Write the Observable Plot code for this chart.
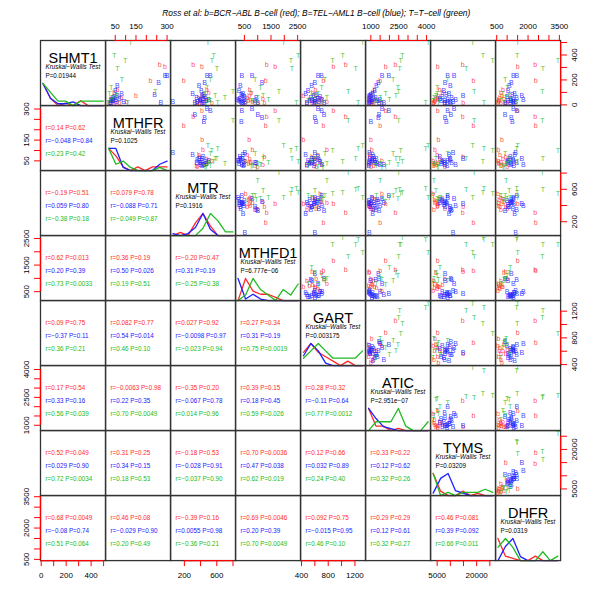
<!DOCTYPE html>
<html>
<head>
<meta charset="utf-8">
<script src="https://cdn.jsdelivr.net/npm/d3@7"></script>
<script src="https://cdn.jsdelivr.net/npm/@observablehq/plot@0.6"></script>
<style>
html,body{margin:0;padding:0;background:#fff;}
#wrap{position:relative;width:600px;height:600px;overflow:hidden;font-family:"Liberation Sans",Arial,Helvetica,sans-serif;}
#title{position:absolute;left:162.3px;top:9.4px;font-size:8.4px;line-height:8.4px;font-style:italic;white-space:nowrap;color:#000;}
</style>
</head>
<body>
<div id="wrap"><div id="title"></div></div>
<script>
const title = "Ross et al: b=BCR\u2212ABL B\u2212cell (red); B=TEL\u2212AML1 B\u2212cell (blue); T=T\u2212cell (green)";
const genes = ["SHMT1","MTHFR","MTR","MTHFD1","GART","ATIC","TYMS","DHFR"];
const letters = ["b","B","T"];
// 15 BCR-ABL (b), 20 TEL-AML1 (B), 14 T-cell (T)
const group = [].concat(Array(15).fill("b"), Array(20).fill("B"), Array(14).fill("T"));

const SHMT1 = [323,304,196,120,95,75,60,48,40,32,25,20,18,16,14,
  237,231,175,150,110,90,80,70,62,55,50,45,40,35,30,25,22,20,17,15,
  497,396,356,290,200,140,105,86,70,55,40,30,20,15];
const MTHFR = [264,290,220,60,45,150,80,30,40,35,105,25,50,70,20,
  291,300,259,60,50,80,240,60,45,40,70,50,30,40,35,90,55,30,270,25,
  124,46,98,60,82,30,243,22,58,35,40,25,110,18];
const MTR = [309,417,193,480,500,420,380,450,400,470,430,350,540,390,360,
  520,480,450,380,410,300,440,420,460,350,430,500,400,390,470,59,360,440,330,420,
  491,560,540,600,520,480,800,450,580,700,500,520,610,470];
const MTHFD1 = [1338,1659,1300,700,750,680,600,1200,720,650,800,900,550,1250,1000,
  404,789,1162,350,300,450,380,420,500,950,330,260,480,900,300,520,360,400,1000,460,
  1973,2520,2246,2283,901,1100,1800,750,1200,1000,1400,800,2450,950];
const GART = [1060,880,730,610,565,430,650,700,520,600,780,480,680,560,620,
  700,650,600,550,500,460,620,580,680,540,640,600,710,560,520,600,660,480,740,590,
  1315,1015,865,1210,750,700,1100,650,600,780,550,500,1250,720];
const ATIC = [2330,1800,1500,1200,1100,1000,950,900,880,1300,1050,1150,1600,920,1000,
  1970,1600,1400,1300,1200,1100,1000,950,900,1250,1150,1050,1500,980,1350,920,1080,1700,1450,893,
  4080,2700,2600,2550,2200,2450,2500,1800,2350,1500,2000,1300,3950,1600];
const TYMS = [14660,5233,18770,6000,7000,5500,5000,4500,5200,4000,4200,3800,3500,14850,8000,
  9000,11450,8000,10000,7500,9500,8500,14850,7000,10500,6000,9000,12000,8000,6500,11000,9800,7800,10200,8800,
  18430,22350,26100,16000,9000,5000,19000,5000,4500,3800,6000,3500,22770,5500];
const DHFR = [2336,1500,2369,800,700,750,650,850,600,620,580,700,560,932,1000,
  1458,1300,1200,1100,1050,1350,1250,1697,1000,1450,1150,1300,1776,1050,1200,1400,1280,1150,900,1320,
  1507,1473,3424,2705,900,1000,2685,800,1100,950,1138,700,1459,850];

// axis limits, tick values and tick labels
const limits = {SHMT1:[-5.6,516], MTHFR:[3,317], MTR:[29,832], MTHFD1:[165,2612],
  GART:[385,1360], ATIC:[714,4215], TYMS:[2480,27180], DHFR:[443,3557]};
const tickValues = {SHMT1:[0,100,200,300,400,500], MTHFR:[50,100,150,200,250,300], MTR:[200,400,600,800],
  MTHFD1:[500,1000,1500,2000,2500], GART:[400,600,800,1000,1200], ATIC:[1000,1500,2000,2500,3000,3500,4000],
  TYMS:[5000,10000,15000,20000,25000], DHFR:[500,1000,1500,2000,2500,3000,3500]};
const tickLabels = {SHMT1:[0,200,400], MTHFR:[50,150,300], MTR:[200,600], MTHFD1:[500,1500,2500],
  GART:[400,800,1200], ATIC:[1000,2500,4000], TYMS:[5000,20000], DHFR:[500,2000,3500]};

// Kruskal-Wallis P values on the diagonal
const kwP = ["P=0.01944","P=0.1025","P=0.1916","P=6.777e\u221206","P=0.003175","P=2.951e\u221207","P=0.03209","P=0.0319"];

// correlations in the lower panels: row (2..8) -> columns -> [red, blue, green]
const m = "\u2212";
const corrRow2 = [["r=0.14 P=0.62",`r=${m}0.048 P=0.84`,"r=0.23 P=0.42"]];
const corrRow3 = [[`r=${m}0.19 P=0.51`,"r=0.059 P=0.80",`r=${m}0.38 P=0.18`],
  ["r=0.079 P=0.78",`r=${m}0.088 P=0.71`,`r=${m}0.049 P=0.87`]];
const corrRow4 = [["r=0.62 P=0.013","r=0.20 P=0.39","r=0.73 P=0.0033"],
  ["r=0.36 P=0.19","r=0.50 P=0.026","r=0.19 P=0.51"],
  [`r=${m}0.20 P=0.47`,"r=0.31 P=0.19",`r=${m}0.25 P=0.38`]];
const corrRow5 = [["r=0.09 P=0.75",`r=${m}0.37 P=0.11`,"r=0.36 P=0.21"],
  ["r=0.082 P=0.77","r=0.54 P=0.014","r=0.46 P=0.10"],
  ["r=0.027 P=0.92",`r=${m}0.0098 P=0.97`,`r=${m}0.023 P=0.94`],
  ["r=0.27 P=0.34","r=0.31 P=0.19","r=0.75 P=0.0019"]];
const corrRow6 = [["r=0.17 P=0.54","r=0.33 P=0.16","r=0.56 P=0.039"],
  [`r=${m}0.0063 P=0.98`,"r=0.22 P=0.35","r=0.70 P=0.0049"],
  [`r=${m}0.35 P=0.20`,`r=${m}0.067 P=0.78`,"r=0.014 P=0.96"],
  ["r=0.39 P=0.15","r=0.18 P=0.45","r=0.59 P=0.026"],
  ["r=0.28 P=0.32",`r=${m}0.11 P=0.64`,"r=0.77 P=0.0012"]];
const corrRow7 = [["r=0.52 P=0.049","r=0.029 P=0.90","r=0.72 P=0.0034"],
  ["r=0.31 P=0.25","r=0.34 P=0.15","r=0.18 P=0.53"],
  [`r=${m}0.18 P=0.53`,`r=${m}0.028 P=0.91`,`r=${m}0.037 P=0.90`],
  ["r=0.70 P=0.0036","r=0.47 P=0.038","r=0.62 P=0.019"],
  ["r=0.12 P=0.66","r=0.032 P=0.89","r=0.24 P=0.40"],
  ["r=0.33 P=0.22","r=0.12 P=0.62","r=0.32 P=0.26"]];
const corrRow8 = [["r=0.68 P=0.0049",`r=${m}0.08 P=0.74`,"r=0.51 P=0.064"],
  ["r=0.46 P=0.08",`r=${m}0.029 P=0.90`,"r=0.20 P=0.49"],
  [`r=${m}0.39 P=0.16`,"r=0.0055 P=0.98",`r=${m}0.36 P=0.21`],
  ["r=0.69 P=0.0046","r=0.20 P=0.39","r=0.70 P=0.0049"],
  ["r=0.092 P=0.75",`r=${m}0.015 P=0.95`,"r=0.46 P=0.10"],
  ["r=0.29 P=0.29","r=0.12 P=0.61","r=0.32 P=0.27"],
  ["r=0.46 P=0.081","r=0.39 P=0.092","r=0.66 P=0.011"]];
const corrRows = [null, corrRow2, corrRow3, corrRow4, corrRow5, corrRow6, corrRow7, corrRow8];

// ---------- drawing ----------
document.getElementById("title").textContent = title;
const colors = {b:"#ff2a2a", B:"#2020ff", T:"#20bb20"};
const axisRed = "#ff0000";
const FONT = "'Liberation Sans', Arial, Helvetica, sans-serif";
const values = {SHMT1, MTHFR, MTR, MTHFD1, GART, ATIC, TYMS, DHFR};
const data = group.map((g, k) => {
  const o = {g};
  for (const gn of genes) o[gn] = values[gn][k];
  return o;
});

// frequency polygon per group, each scaled to its own maximum
function freqPolygon(gene) {
  const vals = values[gene];
  const [lo, hi] = d3.extent(vals);
  const nb = 9;
  const out = [];
  for (const g of letters) {
    const v = vals.filter((_, k) => group[k] === g);
    const counts = new Array(nb).fill(0);
    v.forEach(x => { let b = Math.floor((x - lo) / (hi - lo) * nb); if (b >= nb) b = nb - 1; counts[b]++; });
    const mx = d3.max(counts);
    counts.forEach((c, b) => out.push({g, x: lo + b * (hi - lo) / (nb - 1), p: c / mx}));
  }
  return out;
}

const L0 = 39.5, T0 = 39.5, S = 65.1, M = 40;
const wrap = document.getElementById("wrap");
const fmt = gene => d => tickLabels[gene].includes(d) ? String(d) : "";

for (let i = 0; i < 8; i++) {
  for (let j = 0; j < 8; j++) {
    const gx = genes[j], gy = genes[i];
    const top = i === 0 && j % 2 === 1;
    const bottom = i === 7 && j % 2 === 0;
    const left = j === 0 && i % 2 === 1;
    const right = j === 7 && i % 2 === 0;
    const mt = top ? M : 0, mb = bottom ? M : 0, ml = left ? M : 0, mr = right ? M : 0;
    const marks = [];
    let yDomain = limits[gy];
    if (i < j) {
      for (const g of letters) {
        marks.push(Plot.text(data.filter(d => d.g === g), {x: gx, y: gy, text: "g", fill: colors[g], fontSize: 7, fillOpacity: 0.85}));
      }
    } else if (i > j) {
      const texts = corrRows[i][j];
      const offs = [20, 33, 45.6];
      texts.forEach((s, k) => marks.push(Plot.text([s], {text: d => d, frameAnchor: "top-left", dx: 5, dy: offs[k], fill: colors[letters[k]], fontSize: 6.3})));
    } else {
      const poly = freqPolygon(gx);
      yDomain = [0, 1 / 0.34];
      for (const g of letters) {
        marks.push(Plot.line(poly.filter(d => d.g === g), {x: "x", y: "p", stroke: colors[g], strokeWidth: 1.3}));
      }
      marks.push(Plot.text([gx], {text: d => d, frameAnchor: "top", dy: 12.4, fontSize: 14.5, fill: "black"}));
      marks.push(Plot.text(["Kruskal\u2212Wallis Test"], {text: d => d, frameAnchor: "top-left", dx: 5, dy: 24, fontSize: 6.3, fontStyle: "italic", fill: "black"}));
      marks.push(Plot.text([kwP[i]], {text: d => d, frameAnchor: "top-left", dx: 5, dy: 33.4, fontSize: 6.3, fill: "black"}));
    }
    marks.push(Plot.frame({stroke: "#333", strokeWidth: 1.3}));
    if (top) {
      const tv = tickValues[gx];
      marks.push(Plot.axisX({anchor: "top", ticks: tv, tickFormat: fmt(gx), tickSize: 6, tickPadding: 5, stroke: axisRed, color: "black"}));
      marks.push(Plot.ruleY([{y: yDomain[1], a: tv[0], b: tv[tv.length - 1]}], {y: "y", x1: "a", x2: "b", stroke: axisRed, strokeWidth: 1.2}));
    }
    if (bottom) {
      const tv = tickValues[gx];
      marks.push(Plot.axisX({anchor: "bottom", ticks: tv, tickFormat: fmt(gx), tickSize: 6, tickPadding: 6, stroke: axisRed, color: "black"}));
      marks.push(Plot.ruleY([{y: yDomain[0], a: tv[0], b: tv[tv.length - 1]}], {y: "y", x1: "a", x2: "b", stroke: axisRed, strokeWidth: 1.2}));
    }
    if (left) {
      const tv = tickValues[gy];
      marks.push(Plot.axisY({anchor: "left", ticks: tv, tickFormat: fmt(gy), tickSize: 6, tickPadding: 5, tickRotate: -90, stroke: axisRed, color: "black"}));
      marks.push(Plot.ruleX([{x: limits[gx][0], a: tv[0], b: tv[tv.length - 1]}], {x: "x", y1: "a", y2: "b", stroke: axisRed, strokeWidth: 1.2}));
    }
    if (right) {
      const tv = tickValues[gy];
      marks.push(Plot.axisY({anchor: "right", ticks: tv, tickFormat: fmt(gy), tickSize: 6, tickPadding: 5, tickRotate: -90, lineAnchor: "top", stroke: axisRed, color: "black"}));
      marks.push(Plot.ruleX([{x: limits[gx][1], a: tv[0], b: tv[tv.length - 1]}], {x: "x", y1: "a", y2: "b", stroke: axisRed, strokeWidth: 1.2}));
    }
    const svg = Plot.plot({
      width: S + ml + mr,
      height: S + mt + mb,
      marginTop: mt, marginBottom: mb, marginLeft: ml, marginRight: mr,
      x: {domain: limits[gx], axis: null},
      y: {domain: yDomain, axis: null},
      style: {fontFamily: FONT, fontSize: "8px", background: "transparent", overflow: "visible", position: "absolute", left: (L0 + j * S - ml) + "px", top: (T0 + i * S - mt) + "px", maxWidth: "none"},
      marks
    });
    wrap.appendChild(svg);
  }
}
</script>
</body>
</html>
